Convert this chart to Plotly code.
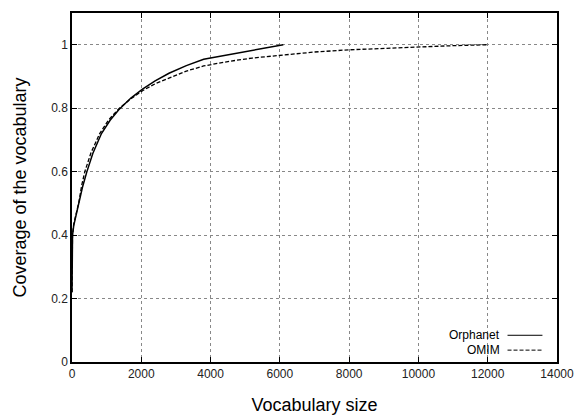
import plotly.graph_objects as go

orph_x = [0, 5, 15, 50, 100, 200, 300, 430, 600, 850, 1100, 1350, 1700, 2035, 2400, 2800, 3300, 3800, 6100]
orph_y = [0.22, 0.33, 0.40, 0.43, 0.455, 0.495, 0.55, 0.60, 0.657, 0.72, 0.762, 0.795, 0.832, 0.860, 0.886, 0.910, 0.934, 0.954, 1.0]

omim_x = [0, 5, 14, 50, 100, 200, 280, 370, 550, 800, 1050, 1340, 1700, 2035, 2400, 2850, 3300, 3800,
          4500, 5200, 6100, 7000, 8000, 9000, 10000, 11000, 12000]
omim_y = [0.22, 0.34, 0.40, 0.435, 0.46, 0.505, 0.557, 0.60, 0.66, 0.72, 0.762, 0.797, 0.830, 0.855, 0.877,
          0.898, 0.917, 0.933, 0.947, 0.958, 0.968, 0.977, 0.984, 0.989, 0.993, 0.997, 1.0]

x_ticks = [0, 2000, 4000, 6000, 8000, 10000, 12000, 14000]
y_ticks = [0, 0.2, 0.4, 0.6, 0.8, 1]
y_labels = ["0", "0.2", "0.4", "0.6", "0.8", "1"]

font = "Liberation Sans, Arial, sans-serif"

fig = go.Figure()
fig.add_trace(go.Scatter(x=omim_x, y=omim_y, mode="lines", name="OMIM",
                         line=dict(color="black", width=1.3, dash="4px,2px")))
fig.add_trace(go.Scatter(x=orph_x, y=orph_y, mode="lines", name="Orphanet",
                         line=dict(color="black", width=1.5)))

axis_common = dict(showline=True, linecolor="black", linewidth=1.5, mirror="ticks",
                   ticks="inside", ticklen=5, tickcolor="black", tickwidth=1,
                   showgrid=True, gridcolor="#888888", griddash="dot", gridwidth=1,
                   zeroline=False, automargin=False,
                   tickfont=dict(family=font, size=12, color="#222"))

fig.update_xaxes(range=[0, 14000], tickvals=x_ticks, ticktext=[str(v) for v in x_ticks],
                 title=dict(text="Vocabulary size", font=dict(family=font, size=18, color="black"), standoff=18),
                 **axis_common)
fig.update_yaxes(range=[0, 1.1], tickvals=y_ticks, ticktext=y_labels,
                 title=dict(text="Coverage of the vocabulary", font=dict(family=font, size=18, color="black"), standoff=20),
                 **axis_common)

# gnuplot-style legend (text then line sample)
legend_items = [("Orphanet", 0.0766, "solid"), ("OMIM", 0.034, "4px,2px")]
for name, yy, dash in legend_items:
    fig.add_annotation(x=0.881, y=yy, xref="paper", yref="paper", text=name, showarrow=False,
                       xanchor="right", yanchor="middle", xshift=3,
                       font=dict(family=font, size=12, color="black"))
    fig.add_shape(type="line", xref="paper", yref="paper", x0=0.898, x1=0.970, y0=yy, y1=yy,
                  line=dict(color="black", width=1, dash=dash))

fig.update_layout(width=577, height=419, showlegend=False,
                  margin=dict(l=71.5, r=20.4, t=12.5, b=56.5),
                  plot_bgcolor="white", paper_bgcolor="white")

fig.write_html("out.html")
